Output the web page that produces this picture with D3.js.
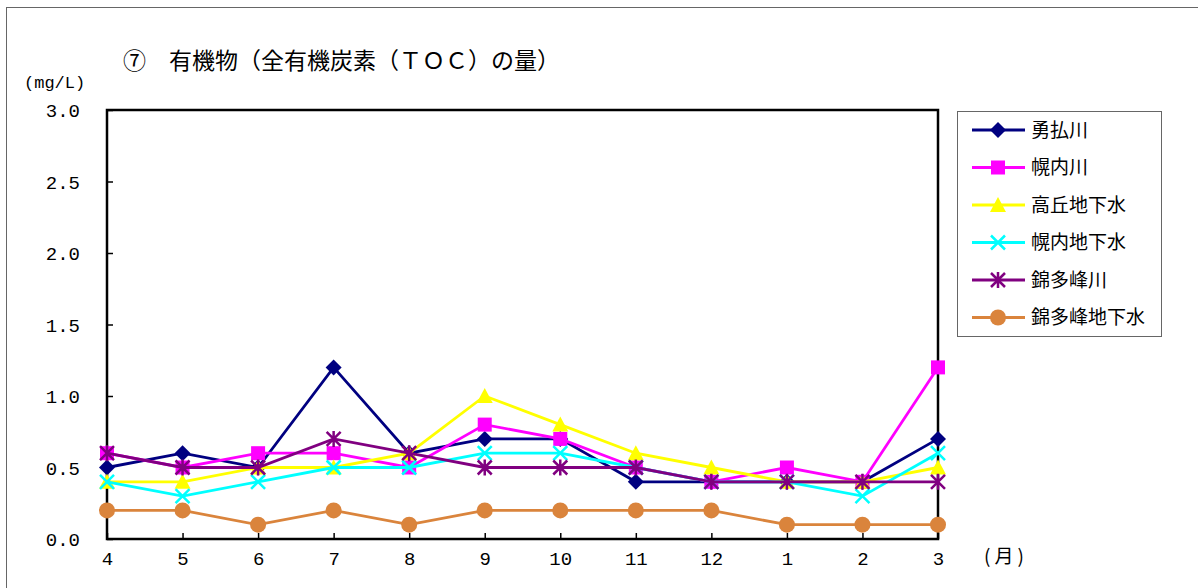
<!DOCTYPE html>
<html><head><meta charset="utf-8">
<script src="https://cdn.jsdelivr.net/npm/d3@7"></script>
<style>
html,body{margin:0;padding:0;background:#fff;}
svg{display:block;}
text{font-family:"Noto Sans CJK JP","Noto Sans",sans-serif;fill:#000;}
</style></head>
<body>
<script>
const months = ["4","5","6","7","8","9","10","11","12","1","2","3"];
const yTicks = [0,0.5,1.0,1.5,2.0,2.5,3.0];
const yuufutsu = [0.5,0.6,0.5,1.2,0.6,0.7,0.7,0.4,0.4,0.4,0.4,0.7];
const horonaiRiver = [0.6,0.5,0.6,0.6,0.5,0.8,0.7,0.5,0.4,0.5,0.4,1.2];
const takaokaGW = [0.4,0.4,0.5,0.5,0.6,1.0,0.8,0.6,0.5,0.4,0.4,0.5];
const horonaiGW = [0.4,0.3,0.4,0.5,0.5,0.6,0.6,0.5,0.4,0.4,0.3,0.6];
const nishikitappuRiver = [0.6,0.5,0.5,0.7,0.6,0.5,0.5,0.5,0.4,0.4,0.4,0.4];
const nishikitappuGW = [0.2,0.2,0.1,0.2,0.1,0.2,0.2,0.2,0.2,0.1,0.1,0.1];
const seriesNames = ["勇払川","幌内川","高丘地下水","幌内地下水","錦多峰川","錦多峰地下水"];
const seriesValues = [yuufutsu,horonaiRiver,takaokaGW,horonaiGW,nishikitappuRiver,nishikitappuGW];
const seriesColors = ["#000080","#FF00FF","#FFFF00","#00FFFF","#800080","#DA843C"];
const seriesMarkers = ["diamond","square","triangle","x","asterisk","circle"];
const titleText = "⑦　有機物（全有機炭素（ＴＯＣ）の量）";

const W=1198,H=588;
const mono="'Liberation Mono','DejaVu Sans Mono',monospace";
const svg=d3.select("body").append("svg").attr("width",W).attr("height",H);
svg.append("rect").attr("x",6.5).attr("y",7.5).attr("width",1200).attr("height",600)
  .attr("fill","none").attr("stroke","#666").attr("stroke-width",1);

const L=107,R=938,T=110,B=539;
const x=d3.scalePoint().domain(months).range([L,R]).padding(0);
const y=d3.scaleLinear().domain([0,3]).range([B,T]);

// frame
svg.append("rect").attr("x",L).attr("y",T).attr("width",R-L).attr("height",B-T)
  .attr("fill","none").attr("stroke","#000").attr("stroke-width",2.5);

// axes
const yAxis=d3.axisLeft(y).tickValues(yTicks).tickFormat(d3.format(".1f")).tickSize(-6).tickPadding(27);
const gy=svg.append("g").attr("transform",`translate(${L},0)`).call(yAxis);
gy.select(".domain").remove();
gy.selectAll("line").attr("stroke","#000").attr("stroke-width",1.5);
gy.selectAll("text").style("font-size","19px").attr("dy","0.36em").style("font-family",mono);

const xAxis=d3.axisBottom(x).tickSize(-6).tickPadding(16);
const gx=svg.append("g").attr("transform",`translate(0,${B})`).call(xAxis);
gx.select(".domain").remove();
gx.selectAll("line").attr("stroke","#000").attr("stroke-width",1.5);
gx.selectAll("text").style("font-size","19px").attr("dy","0.5em").style("font-family",mono);

// labels
svg.append("text").attr("x",24).attr("y",88).text("(mg/L)").style("font-size","17px").style("font-family",mono);
svg.append("text").attr("x",984).attr("y",563).text("(月)").style("font-size","19px").style("letter-spacing","4px");
svg.append("text").attr("x",123).attr("y",69).text(titleText).style("font-size","23px");

function marker(g,type,color,cx,cy){
  const s=7;
  if(type==="diamond"){
    g.append("path").attr("d",`M${cx},${cy-s-1}L${cx+s+1},${cy}L${cx},${cy+s+1}L${cx-s-1},${cy}Z`).attr("fill",color);
  }else if(type==="square"){
    g.append("rect").attr("x",cx-s).attr("y",cy-s).attr("width",2*s).attr("height",2*s).attr("fill",color);
  }else if(type==="triangle"){
    g.append("path").attr("d",`M${cx},${cy-s-1}L${cx+s+1},${cy+s}L${cx-s-1},${cy+s}Z`).attr("fill",color);
  }else if(type==="x"){
    g.append("path").attr("d",`M${cx-s},${cy-s}L${cx+s},${cy+s}M${cx-s},${cy+s}L${cx+s},${cy-s}`).attr("stroke",color).attr("stroke-width",2.5);
  }else if(type==="asterisk"){
    g.append("path").attr("d",`M${cx-s},${cy-s}L${cx+s},${cy+s}M${cx-s},${cy+s}L${cx+s},${cy-s}M${cx},${cy-s-1}L${cx},${cy+s+1}`).attr("stroke",color).attr("stroke-width",2.5);
  }else{
    g.append("circle").attr("cx",cx).attr("cy",cy).attr("r",8).attr("fill",color);
  }
}

const line=d3.line().x((d,i)=>x(months[i])).y(d=>y(d));
seriesValues.forEach((vals,si)=>{
  const g=svg.append("g");
  g.append("path").datum(vals).attr("d",line).attr("fill","none")
    .attr("stroke",seriesColors[si]).attr("stroke-width",2.8);
  vals.forEach((v,i)=>marker(g,seriesMarkers[si],seriesColors[si],x(months[i]),y(v)));
});

// legend
const lg=svg.append("g");
lg.append("rect").attr("x",957.5).attr("y",111.5).attr("width",204).attr("height",225)
  .attr("fill","#fff").attr("stroke","#666").attr("stroke-width",1);
seriesNames.forEach((n,i)=>{
  const ly=130+i*37.5;
  lg.append("line").attr("x1",972).attr("x2",1025).attr("y1",ly).attr("y2",ly)
    .attr("stroke",seriesColors[i]).attr("stroke-width",2.8);
  marker(lg,seriesMarkers[i],seriesColors[i],998,ly);
  lg.append("text").attr("x",1031).attr("y",ly).attr("dy","0.36em").text(n).style("font-size","19px");
});
</script>
</body></html>
